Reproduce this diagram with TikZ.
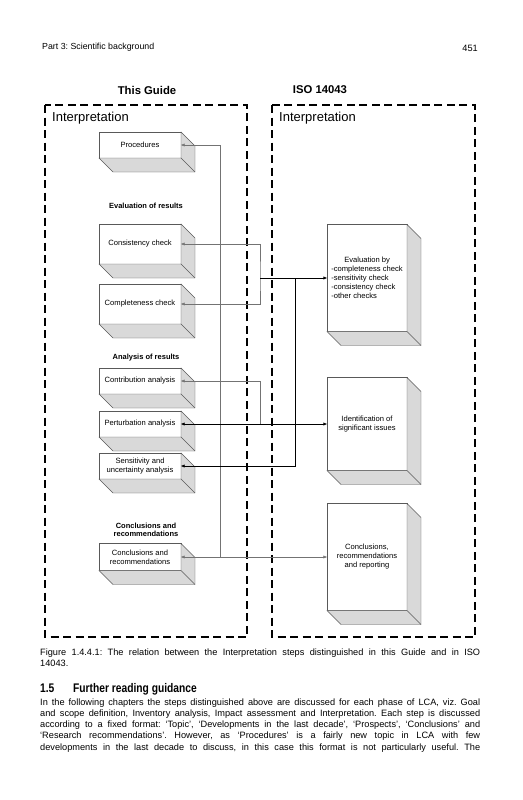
\documentclass[tikz,border=0pt]{standalone}
\usepackage{fontspec}
\setmainfont{Liberation Sans}
\newfontfamily\narrowbold[FakeStretch=0.82]{Liberation Sans Bold}
\usetikzlibrary{calc,arrows.meta}
\frenchspacing

\begin{document}
\begin{tikzpicture}[
    x=1pt, y=-1pt,
    every node/.style={font=\fontsize{7.6}{9}\selectfont},
    >={Triangle[length=3.6pt,width=2.8pt]},
    guidebox/.style={
        draw=black!65,
        fill=white,
        minimum width=82pt,
        inner sep=1pt,
        outer sep=0pt,
        align=center
    },
    isobox/.style={guidebox, minimum width=80pt},
    side/.style={draw=black!65, fill=gray!30},
    frame/.style={draw, line width=1.1pt, dash pattern=on 8pt off 4.5pt},
    groupname/.style={font=\fontsize{7.5}{8.6}\selectfont\bfseries, align=center},
    colhead/.style={font=\fontsize{11.3}{13}\selectfont\bfseries},
    title/.style={font=\fontsize{13}{15}\selectfont, anchor=base west, inner sep=0pt},
    pagetext/.style={font=\fontsize{9.2}{11}\selectfont, anchor=base west, inner sep=0pt},
    glink/.style={draw=black!55, line width=0.5pt},
    blink/.style={draw=black, line width=0.7pt}
]
\useasboundingbox (0,0) rectangle (522,800);

% running head
\node[pagetext, font=\fontsize{8.8}{10}\selectfont] (runhead) at (42,50) {Part 3: Scientific background};
\node[pagetext, anchor=base east] (pageno) at (478,52) {451};

% the two columns
\node[colhead] (guidehead) at (147,90) {This Guide};
\node[colhead] (isohead) at (320,90) {ISO 14043};
\draw[frame] (45,105) rectangle (247,637);
\draw[frame] (272,105) rectangle (475,637);
\node[title] (guidetitle) at (52,121) {Interpretation};
\node[title] (isotitle) at (279,121) {Interpretation};

% steps in this Guide
\node[guidebox, minimum height=26pt] (proc) at (140,145) {Procedures};
\node[groupname] (evalhead) at (146,206) {Evaluation of results};
\node[guidebox, minimum height=40pt] (cons) at (140,244) {Consistency check};
\node[guidebox, minimum height=40pt] (compl) at (140,304) {Completeness check};
\node[groupname] (anahead) at (146,358) {Analysis of results};
\node[guidebox, minimum height=26pt] (contr) at (140,381) {Contribution analysis};
\node[guidebox, minimum height=26pt] (pert) at (140,424) {Perturbation analysis};
\node[guidebox, minimum height=26pt] (sens) at (140,466) {Sensitivity and\\uncertainty analysis};
\node[groupname] (conclhead) at (146,530) {Conclusions and\\recommendations};
\node[guidebox, minimum height=27pt] (concl) at (140,557) {Conclusions and\\recommendations};

% steps in ISO 14043
\node[isobox, minimum height=107pt, align=left] (eval) at (367,278)
    {\hspace*{13pt}Evaluation by\\-completeness check\\-sensitivity check\\-consistency check\\-other checks};
\node[isobox, minimum height=93pt] (iden) at (367,424) {Identification of\\significant issues};
\node[isobox, minimum height=107pt] (isoconcl) at (367,557) {Conclusions,\\recommendations\\and reporting};

% shaded sides of the blocks
\foreach \n in {proc,cons,compl,contr,pert,sens,concl,eval,iden,isoconcl} {
    \draw[side] (\n.north east) -- ++(14,14) -- ($(\n.south east)+(14,14)$)
        -- ($(\n.south west)+(14,14)$) -- (\n.south west) -- (\n.south east) -- cycle;
    \draw[draw=black!65] (\n.south east) -- ++(14,14);
}

% connections
\coordinate (jproc) at (220,557);
\coordinate (jcons) at (260,278);
\coordinate (jsens) at (295,278);
\coordinate (jcontr) at (260,424);

\draw[glink,<->] (concl.east) -- (isoconcl.west);
\draw[glink,->] (jproc) |- (proc.east);
\draw[glink,<->] (cons.east) -| (jcons) |- (compl.east);
\draw[blink,->] (jcons) -- (eval.west);
\draw[blink,->] (jsens) |- (sens.east);
\draw[glink,->] (jcontr) |- (contr.east);
\draw[blink,<->] (pert.east) -- (iden.west);

% caption and text below
\node[pagetext] (cap1) at (40,655.7) {\makebox[440pt][s]{Figure 1.4.4.1: The relation between the Interpretation steps distinguished in this Guide and in ISO}};
\node[pagetext] (cap2) at (40,666.7) {14043.};
\node[pagetext, font=\fontsize{12.5}{14}\narrowbold] (secnum) at (40,692) {1.5};
\node[pagetext, font=\fontsize{12.5}{14}\narrowbold] (sectitle) at (73,692) {Further reading guidance};
\node[pagetext] (line1) at (40,705.3) {\makebox[440pt][s]{In the following chapters the steps distinguished above are discussed for each phase of LCA, viz. Goal}};
\node[pagetext] (line2) at (40,716.5) {\makebox[440pt][s]{and scope definition, Inventory analysis, Impact assessment and Interpretation. Each step is discussed}};
\node[pagetext] (line3) at (40,727.7) {\makebox[440pt][s]{according to a fixed format: ‘Topic’, ‘Developments in the last decade’, ‘Prospects’, ‘Conclusions’ and}};
\node[pagetext] (line4) at (40,738.9) {\makebox[440pt][s]{‘Research recommendations’. However, as ‘Procedures’ is a fairly new topic in LCA with few}};
\node[pagetext] (line5) at (40,750.1) {\makebox[440pt][s]{developments in the last decade to discuss, in this case this format is not particularly useful. The}};

\end{tikzpicture}
\end{document}
